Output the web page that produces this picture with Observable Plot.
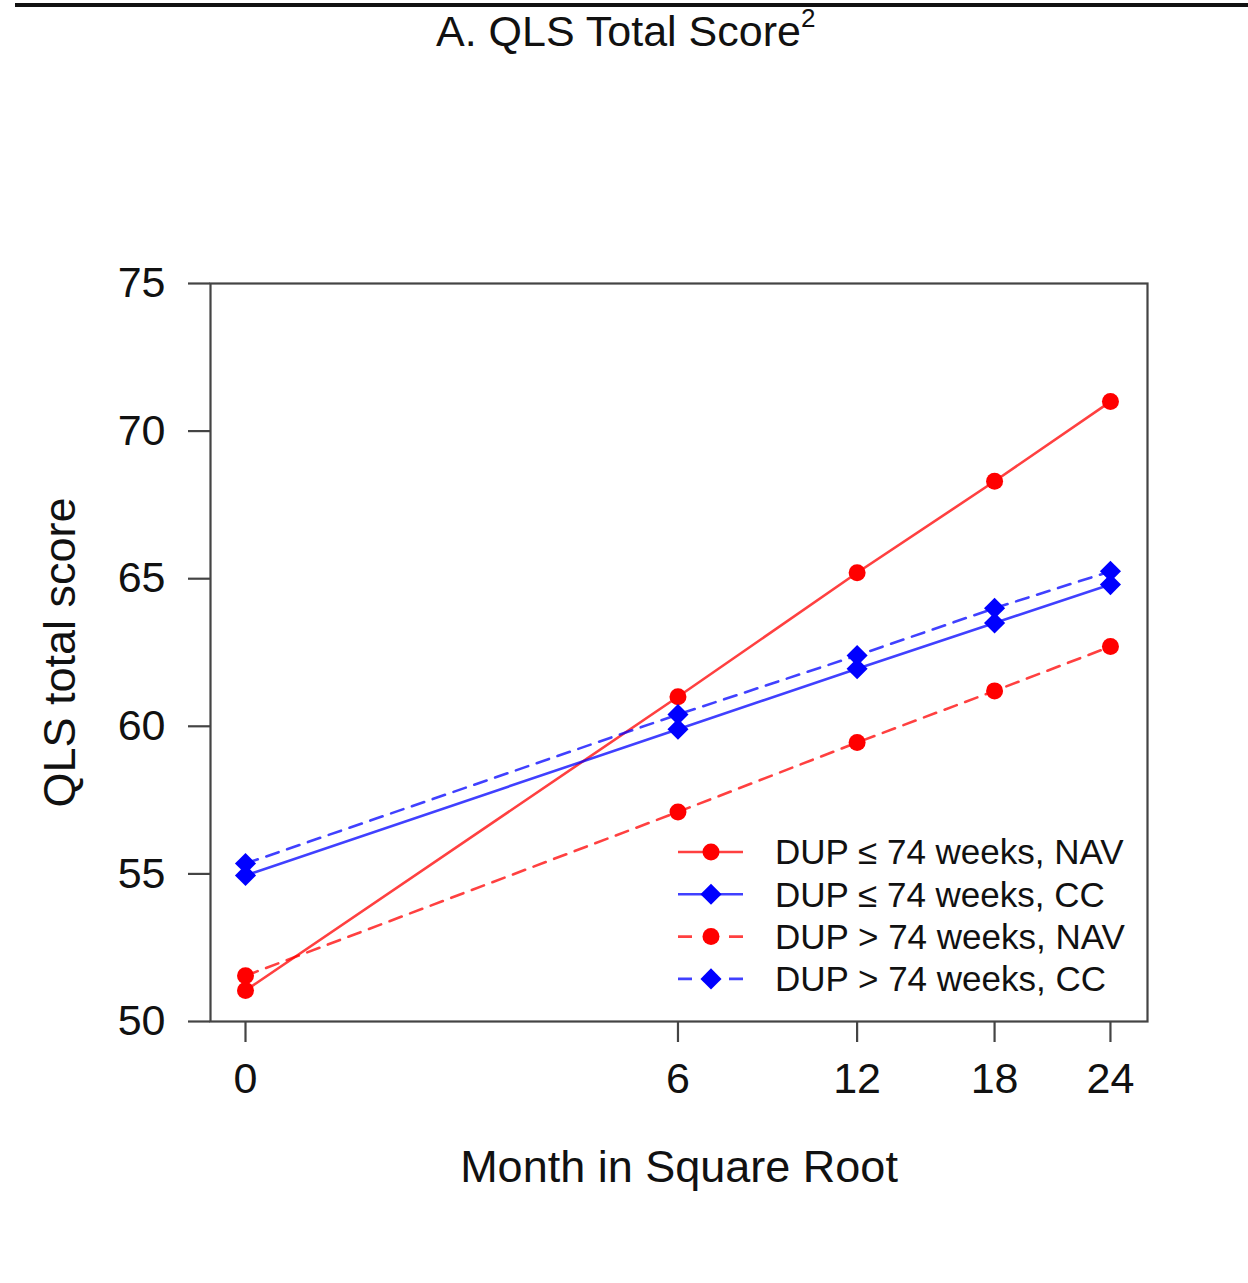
<!DOCTYPE html>
<html>
<head>
<meta charset="utf-8">
<script src="https://cdn.jsdelivr.net/npm/d3@7"></script>
<script src="https://cdn.jsdelivr.net/npm/@observablehq/plot@0.6"></script>
<style>
  html, body { margin: 0; padding: 0; background: #fff; }
  body { font-family: "Liberation Sans", Arial, Helvetica, sans-serif; }
  #wrap { position: relative; width: 1248px; height: 1283px; overflow: hidden; }
  #topline { position: absolute; left: 15px; top: 3px; width: 1233px; height: 4px; background: #111; }
  #title { position: absolute; left: 436px; top: 10px; font-size: 43px; line-height: 43px; color: #111; white-space: nowrap; }
  #title sup { font-size: 26px; line-height: 0; position: relative; top: -4px; vertical-align: super; }
  #chart { position: absolute; left: 0; top: 70px; }
  #legend { position: absolute; left: 670px; top: 830px; }
</style>
</head>
<body>
<div id="wrap">
  <div id="topline"></div>
  <div id="title">A. QLS Total Score<sup>2</sup></div>
  <div id="chart"></div>
  <div id="legend"></div>
</div>
<script>
// ---- data ----
const months = [0, 6, 12, 18, 24];
const navShortDUP = [51.05, 61.0, 65.2, 68.3, 71.0];   // DUP <= 74 weeks, NAV
const ccShortDUP  = [54.95, 59.9, 61.95, 63.5, 64.8];  // DUP <= 74 weeks, CC
const navLongDUP  = [51.55, 57.1, 59.45, 61.2, 62.7];  // DUP > 74 weeks, NAV
const ccLongDUP   = [55.35, 60.4, 62.4, 64.0, 65.25];  // DUP > 74 weeks, CC
const seriesNames = ["DUP \u2264 74 weeks, NAV", "DUP \u2264 74 weeks, CC", "DUP > 74 weeks, NAV", "DUP > 74 weeks, CC"];
const seriesValues = [navShortDUP, ccShortDUP, navLongDUP, ccLongDUP];
const yTicks = [50, 55, 60, 65, 70, 75];
const xTicks = [0, 6, 12, 18, 24];

// ---- styles ----
const colors = ["#ff0000", "#0000ff", "#ff0000", "#0000ff"];
const dashes = [null, null, "13,9", "13,9"];
const symbols = ["circle", "diamond2", "circle", "diamond2"];
const radii = [8.5, 9.5, 8.5, 9.5];

const rows = [];
seriesNames.forEach((name, i) => {
  months.forEach((m, j) => rows.push({series: name, idx: i, month: m, value: seriesValues[i][j]}));
});

const FONT = '"Liberation Sans", Arial, Helvetica, sans-serif';
const marks = [];

seriesNames.forEach((name, i) => {
  const d = rows.filter(r => r.idx === i);
  marks.push(Plot.line(d, {
    x: "month", y: "value", stroke: colors[i], strokeWidth: 2.6,
    strokeDasharray: dashes[i] || undefined, strokeOpacity: 0.75
  }));
});
seriesNames.forEach((name, i) => {
  const d = rows.filter(r => r.idx === i);
  marks.push(Plot.dot(d, {
    x: "month", y: "value", fill: colors[i], stroke: "none", symbol: symbols[i], r: radii[i]
  }));
});

marks.push(Plot.frame({stroke: "#444", strokeWidth: 2.2}));
marks.push(Plot.axisY({
  ticks: yTicks, tickSize: 22, tickPadding: 23, fontSize: 43, label: null,
  stroke: "#444", strokeWidth: 2.2, fill: "#111", tickFormat: d => String(d)
}));
marks.push(Plot.axisX({
  ticks: xTicks, tickSize: 21, tickPadding: 20, fontSize: 43, label: null,
  stroke: "#444", strokeWidth: 2.2, fill: "#111", tickFormat: d => String(d)
}));
marks.push(Plot.text(["QLS total score"], {
  frameAnchor: "left", dx: -150, rotate: -90, textAnchor: "middle", lineAnchor: "middle",
  fontSize: 45, fill: "#111", text: d => d
}));
marks.push(Plot.text(["Month in Square Root"], {
  frameAnchor: "bottom", dy: 146, fontSize: 45, fill: "#111", lineAnchor: "middle", text: d => d
}));

const chart = Plot.plot({
  width: 1248,
  height: 1213,
  marginLeft: 210,
  marginRight: 101,
  marginTop: 213,
  marginBottom: 262,
  style: {fontFamily: FONT, background: "transparent", overflow: "visible"},
  x: {type: "pow", exponent: 0.5, domain: [-0.0393, 26.1]},
  y: {domain: [50, 75]},
  marks
});
document.getElementById("chart").appendChild(chart);

// ---- legend (HTML overlay, inside the plot frame) ----
const lg = d3.select("#legend").append("svg")
  .attr("width", 480).attr("height", 180)
  .style("font-family", FONT);
const rowY = i => 22 + i * 42.3;
seriesNames.forEach((name, i) => {
  const g = lg.append("g").attr("transform", `translate(0,${rowY(i)})`);
  g.append("line").attr("x1", 8).attr("x2", 73).attr("y1", 0).attr("y2", 0)
    .attr("stroke", colors[i]).attr("stroke-width", 2.6).attr("stroke-opacity", 0.75)
    .attr("stroke-dasharray", dashes[i] ? "14,37,14" : null);
  const sym = symbols[i] === "circle" ? d3.symbolCircle : d3.symbolDiamond2;
  g.append("path").attr("transform", "translate(41,0)")
    .attr("d", d3.symbol(sym, Math.PI * radii[i] * radii[i])())
    .attr("fill", colors[i]);
  g.append("text").attr("x", 105).attr("y", 0).attr("dy", "0.35em")
    .attr("font-size", 35).attr("fill", "#111").text(name);
});
</script>
</body>
</html>
